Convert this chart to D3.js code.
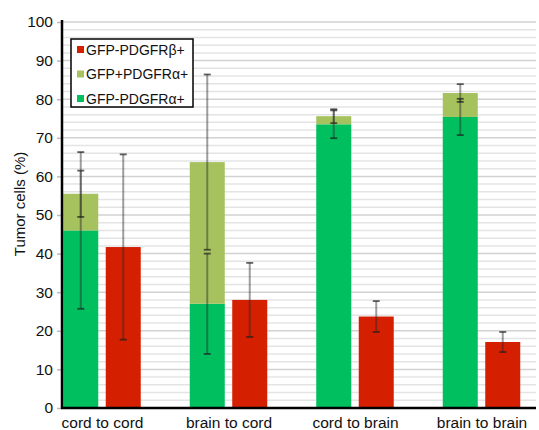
<!DOCTYPE html>
<html>
<head>
<meta charset="utf-8">
<script src="https://cdn.jsdelivr.net/npm/d3@7"></script>
<style>
  body { margin: 0; background: #fff; }
  svg { display: block; font-family: "Liberation Sans", Arial, sans-serif; }
</style>
</head>
<body>
<svg id="chart" width="539" height="430"></svg>
<script>
const categories = ["cord to cord", "brain to cord", "cord to brain", "brain to brain"];
const alphaNeg = [46, 27, 73.5, 75.4];        // GFP-PDGFRα+
const alphaPos = [9.5, 36.7, 2.1, 6.2];       // GFP+PDGFRα+ (stacked on top)
const beta = [41.7, 28, 23.7, 17.1];          // GFP-PDGFRβ+
const alphaNegErr = [20.3, 13, 3.6, 4.7];
const stackErr = [6, 22.7, 1.8, 2.3];
const betaErr = [24, 9.6, 4, 2.6];
const yTicks = [0, 10, 20, 30, 40, 50, 60, 70, 80, 90, 100];
const legendItems = ["GFP-PDGFRβ+", "GFP+PDGFRα+", "GFP-PDGFRα+"];
const colors = { beta: "#d42000", alphaPos: "#a6c25f", alphaNeg: "#00bf5f" };
const legendColors = [colors.beta, colors.alphaPos, colors.alphaNeg];

const svg = d3.select("#chart");
const pLeft = 62, pRight = 536, pTop = 22, pBottom = 408;

const y = d3.scaleLinear().domain([0, 100]).range([pBottom, pTop]);
const x = d3.scalePoint().domain(categories).range([102, 481.5]);
const sub = d3.scaleBand().domain(["alpha", "beta"]).range([-38.75, 38.75]).paddingInner(0.176);
const bw = sub.bandwidth();

// gridlines (minor every 2, major every 10)
const minor = d3.range(2, 101, 2).filter(v => v % 10 !== 0);
svg.append("g").selectAll("line").data(minor).join("line")
  .attr("x1", pLeft).attr("x2", pRight)
  .attr("y1", d => y(d)).attr("y2", d => y(d))
  .attr("stroke", "#e4e4e4").attr("stroke-width", 1.5);
svg.append("g").selectAll("line").data(yTicks.filter(v => v > 0)).join("line")
  .attr("x1", pLeft).attr("x2", pRight)
  .attr("y1", d => y(d)).attr("y2", d => y(d))
  .attr("stroke", "#d2d2d2").attr("stroke-width", 1.5);

// bars
const idx = categories.map((c, i) => i);
const g = svg.append("g");
g.selectAll(".an").data(idx).join("rect")
  .attr("x", i => x(categories[i]) + sub("alpha"))
  .attr("width", bw)
  .attr("y", i => y(alphaNeg[i]))
  .attr("height", i => y(0) - y(alphaNeg[i]))
  .attr("fill", colors.alphaNeg);
g.selectAll(".ap").data(idx).join("rect")
  .attr("x", i => x(categories[i]) + sub("alpha"))
  .attr("width", bw)
  .attr("y", i => y(alphaNeg[i] + alphaPos[i]))
  .attr("height", i => y(alphaNeg[i]) - y(alphaNeg[i] + alphaPos[i]))
  .attr("fill", colors.alphaPos);
g.selectAll(".b").data(idx).join("rect")
  .attr("x", i => x(categories[i]) + sub("beta"))
  .attr("width", bw)
  .attr("y", i => y(beta[i]))
  .attr("height", i => y(0) - y(beta[i]))
  .attr("fill", colors.beta);

// error bars
function errBar(cx, val, err) {
  const e = svg.append("g");
  e.append("line").attr("x1", cx).attr("x2", cx)
    .attr("y1", y(val + err)).attr("y2", y(val - err))
    .attr("stroke", "rgba(40,40,40,0.45)").attr("stroke-width", 2);
  [val + err, val - err].forEach(v => {
    e.append("line").attr("x1", cx - 3.5).attr("x2", cx + 3.5)
      .attr("y1", y(v)).attr("y2", y(v))
      .attr("stroke", "rgba(30,30,30,0.7)").attr("stroke-width", 1.8);
  });
}
idx.forEach(i => {
  const ca = x(categories[i]) + sub("alpha") + bw / 2;
  const cb = x(categories[i]) + sub("beta") + bw / 2;
  errBar(ca, alphaNeg[i], alphaNegErr[i]);
  errBar(ca, alphaNeg[i] + alphaPos[i], stackErr[i]);
  errBar(cb, beta[i], betaErr[i]);
});

// y axis
const yAxis = svg.append("g").attr("transform", `translate(${pLeft},0)`)
  .call(d3.axisLeft(y).tickValues(yTicks).tickSize(5).tickPadding(4));
yAxis.select(".domain").remove();
yAxis.selectAll(".tick line").attr("stroke", "#bbb").attr("stroke-width", 1.5);
yAxis.selectAll(".tick text").attr("font-size", "15.5px").attr("fill", "#111")
  .attr("font-family", "Liberation Sans, Arial, sans-serif");
svg.append("line").attr("x1", pLeft).attr("x2", pLeft).attr("y1", pTop - 2).attr("y2", pBottom + 1)
  .attr("stroke", "#000").attr("stroke-width", 2.5);

// x axis
const xAxis = svg.append("g").attr("transform", `translate(0,${pBottom})`)
  .call(d3.axisBottom(x).tickSize(0).tickPadding(9));
xAxis.select(".domain").remove();
xAxis.selectAll(".tick text").attr("font-size", "15.5px").attr("fill", "#111")
  .attr("font-family", "Liberation Sans, Arial, sans-serif");
svg.append("line").attr("x1", pLeft - 1).attr("x2", pRight).attr("y1", pBottom).attr("y2", pBottom)
  .attr("stroke", "#000").attr("stroke-width", 2.5);

// y title
svg.append("text").attr("transform", `translate(21,204) rotate(-90)`)
  .attr("text-anchor", "middle").attr("dominant-baseline", "middle")
  .attr("font-size", "15px").attr("fill", "#111").text("Tumor cells (%)");

// legend
const lg = svg.append("g");
lg.append("rect").attr("x", 71).attr("y", 39).attr("width", 122).attr("height", 68)
  .attr("fill", "#fff").attr("stroke", "#000").attr("stroke-width", 1.5);
const ly = d3.scalePoint().domain(legendItems).range([49.5, 98.5]);
lg.selectAll(".sw").data(legendItems).join("rect")
  .attr("x", 77).attr("y", d => ly(d) - 3.5).attr("width", 7).attr("height", 7)
  .attr("fill", (d, i) => legendColors[i]);
lg.selectAll(".lt").data(legendItems).join("text")
  .attr("x", 86).attr("y", d => ly(d)).attr("dominant-baseline", "central")
  .attr("font-size", "14px").attr("fill", "#111").text(d => d);
</script>
</body>
</html>
